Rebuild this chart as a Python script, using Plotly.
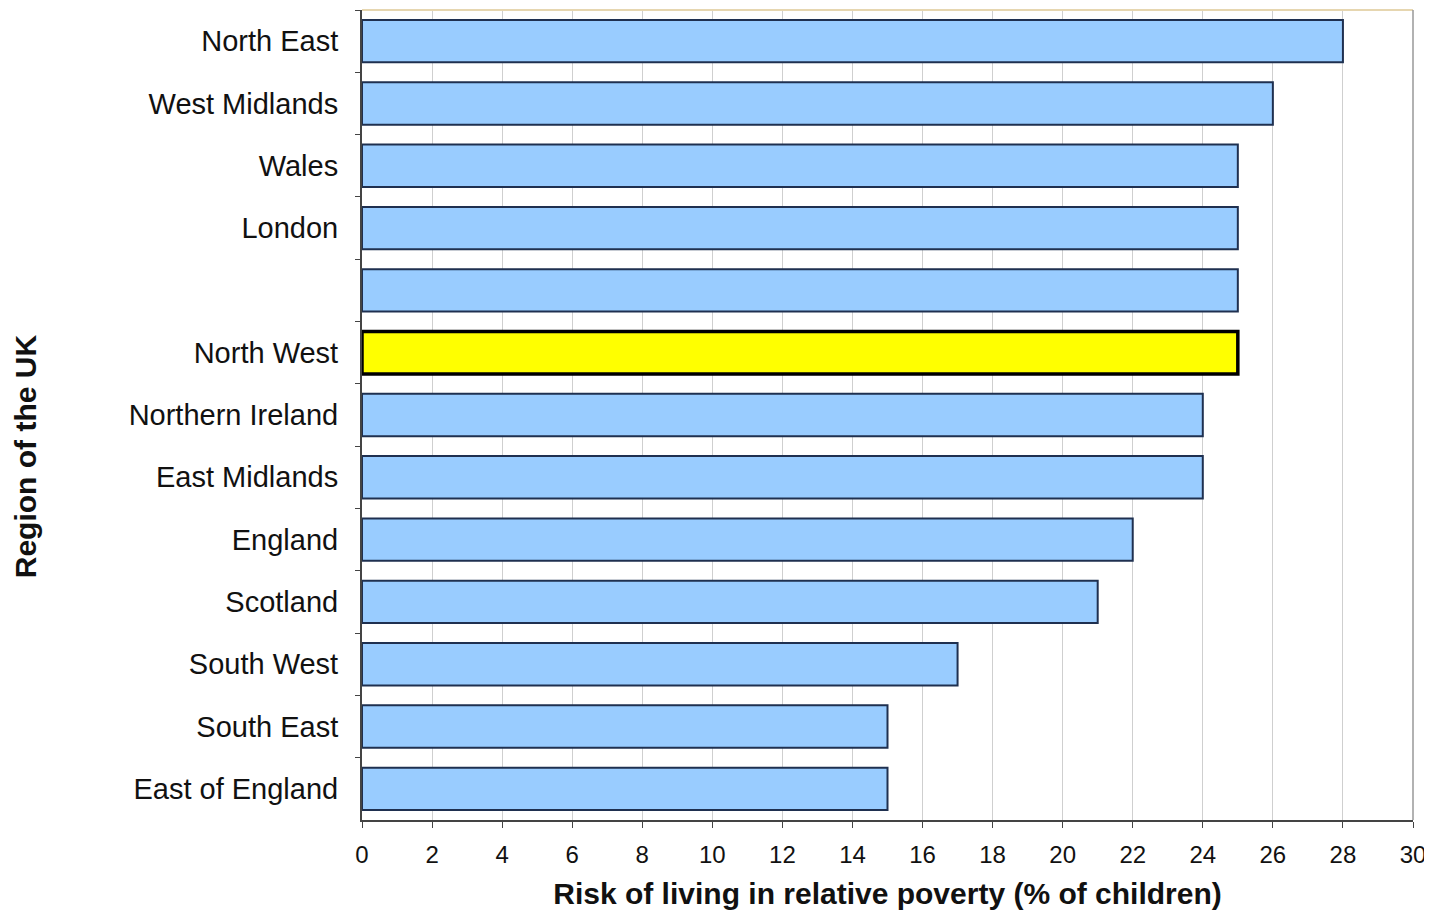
import plotly.graph_objects as go

regions = ["North East", "West Midlands", "Wales", "London", " ", "North West",
           "Northern Ireland", "East Midlands", "England", "Scotland",
           "South West", "South East", "East of England"]
risk = [28, 26, 25, 25, 25, 25, 24, 24, 22, 21, 17, 15, 15]
highlight = "North West"

fills = ["#FFFF00" if r == highlight else "#99CCFF" for r in regions]
edges = ["#000000" if r == highlight else "#1f3050" for r in regions]
widths = [3.5 if r == highlight else 2 for r in regions]

fig = go.Figure(go.Bar(
    x=risk, y=regions, orientation="h",
    marker=dict(color=fills, line=dict(color=edges, width=widths)),
    width=0.68,
))

fig.update_layout(
    width=1424, height=902,
    margin=dict(l=354, r=19, t=2, b=90, pad=0),
    paper_bgcolor="white", plot_bgcolor="white",
    font=dict(family="Liberation Sans, Arial, sans-serif", color="#111111"),
    showlegend=False,
    xaxis=dict(
        range=[0, 30], tickvals=list(range(0, 31, 2)),
        showgrid=True, gridcolor="#cfcfcf", gridwidth=1,
        showline=True, linecolor="#444444", linewidth=2,
        ticks="outside", ticklen=6, tickcolor="#444444", ticklabelstandoff=6,
        tickfont=dict(size=24), zeroline=False, automargin=False,
        title=dict(text="<b>Risk of living in relative poverty (% of children)</b>",
                   font=dict(size=30), standoff=20),
    ),
    yaxis=dict(
        type="category", categoryorder="array", categoryarray=regions,
        autorange="reversed", automargin=False,
        showline=True, linecolor="#444444", linewidth=2,
        ticks="outside", ticklen=5, tickcolor="#444444", tickson="boundaries",
        tickfont=dict(size=29), ticklabelstandoff=16,
    ),
    annotations=[
        dict(text="<b>Region of the UK</b>", xref="paper", yref="paper",
             x=-0.3207, y=0.449, xanchor="center", yanchor="middle",
             textangle=-90, showarrow=False, font=dict(size=30)),
    ],
    shapes=[
        dict(type="line", xref="paper", yref="paper", x0=0, x1=1, y0=1, y1=1,
             line=dict(color="#e6d6b0", width=2)),
        dict(type="line", xref="paper", yref="paper", x0=1, x1=1, y0=0, y1=1,
             line=dict(color="#999999", width=1.5)),
    ],
)

fig.write_html("out.html")
